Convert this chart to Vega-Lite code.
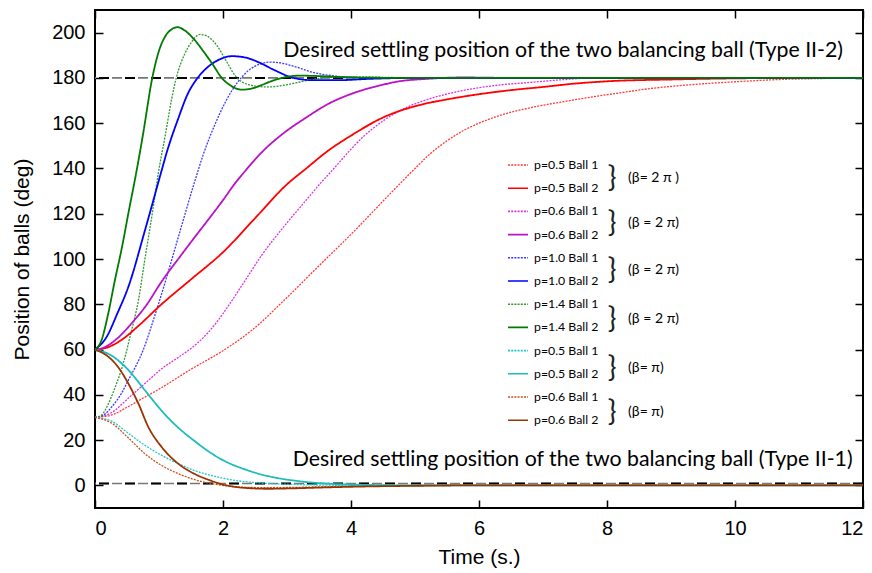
{
  "$schema": "https://vega.github.io/schema/vega-lite/v6.json",
  "width": 768,
  "height": 498,
  "autosize": {"type": "none"},
  "padding": {"left": 95, "top": 10, "right": 9, "bottom": 65},
  "background": "white",
  "datasets": {
    "levels": [{"level": 180}, {"level": 0.8}],
    "notes": [
      {"text": "Desired settling position of the two balancing ball (Type II-2)", "t": 2.94, "v": 192.1, "kind": "big"},
      {"text": "Desired settling position of the two balancing ball (Type II-1)", "t": 3.09, "v": 11, "kind": "big"},
      {"text": "}", "t": 8.08, "v": 135.8, "kind": "brace"},
      {"text": "}", "t": 8.08, "v": 115.9, "kind": "brace"},
      {"text": "}", "t": 8.08, "v": 95.2, "kind": "brace"},
      {"text": "}", "t": 8.08, "v": 73.6, "kind": "brace"},
      {"text": "}", "t": 8.08, "v": 52.0, "kind": "brace"},
      {"text": "}", "t": 8.08, "v": 32.2, "kind": "brace"},
      {"text": "(β= 2 π )", "t": 8.33, "v": 135.8, "kind": "beta"},
      {"text": "(β = 2 π)", "t": 8.33, "v": 115.9, "kind": "beta"},
      {"text": "(β = 2 π)", "t": 8.33, "v": 95.2, "kind": "beta"},
      {"text": "(β = 2 π)", "t": 8.33, "v": 73.6, "kind": "beta"},
      {"text": "(β= π)", "t": 8.33, "v": 52.0, "kind": "beta"},
      {"text": "(β= π)", "t": 8.33, "v": 32.2, "kind": "beta"}
    ],
    "curves": [
      {"series": "p=0.5 Ball 1 (β=2π)", "t": 0, "v": 30},
      {"series": "p=0.5 Ball 1 (β=2π)", "t": 0.25, "v": 31},
      {"series": "p=0.5 Ball 1 (β=2π)", "t": 0.5, "v": 34.5},
      {"series": "p=0.5 Ball 1 (β=2π)", "t": 0.78, "v": 39},
      {"series": "p=0.5 Ball 1 (β=2π)", "t": 1, "v": 42.5},
      {"series": "p=0.5 Ball 1 (β=2π)", "t": 1.5, "v": 51.3},
      {"series": "p=0.5 Ball 1 (β=2π)", "t": 2, "v": 59.5},
      {"series": "p=0.5 Ball 1 (β=2π)", "t": 2.45, "v": 68.5},
      {"series": "p=0.5 Ball 1 (β=2π)", "t": 3, "v": 83},
      {"series": "p=0.5 Ball 1 (β=2π)", "t": 3.5, "v": 97},
      {"series": "p=0.5 Ball 1 (β=2π)", "t": 4.06, "v": 112.6},
      {"series": "p=0.5 Ball 1 (β=2π)", "t": 4.6, "v": 128.5},
      {"series": "p=0.5 Ball 1 (β=2π)", "t": 5, "v": 140},
      {"series": "p=0.5 Ball 1 (β=2π)", "t": 5.23, "v": 146.3},
      {"series": "p=0.5 Ball 1 (β=2π)", "t": 5.5, "v": 152.2},
      {"series": "p=0.5 Ball 1 (β=2π)", "t": 5.76, "v": 156.8},
      {"series": "p=0.5 Ball 1 (β=2π)", "t": 6, "v": 160},
      {"series": "p=0.5 Ball 1 (β=2π)", "t": 6.28, "v": 163},
      {"series": "p=0.5 Ball 1 (β=2π)", "t": 6.8, "v": 166.8},
      {"series": "p=0.5 Ball 1 (β=2π)", "t": 7.32, "v": 169.5},
      {"series": "p=0.5 Ball 1 (β=2π)", "t": 7.84, "v": 171.9},
      {"series": "p=0.5 Ball 1 (β=2π)", "t": 8.3, "v": 173.8},
      {"series": "p=0.5 Ball 1 (β=2π)", "t": 8.62, "v": 175.1},
      {"series": "p=0.5 Ball 1 (β=2π)", "t": 9.1, "v": 176.5},
      {"series": "p=0.5 Ball 1 (β=2π)", "t": 9.66, "v": 177.7},
      {"series": "p=0.5 Ball 1 (β=2π)", "t": 10.2, "v": 178.6},
      {"series": "p=0.5 Ball 1 (β=2π)", "t": 10.7, "v": 179.3},
      {"series": "p=0.5 Ball 1 (β=2π)", "t": 11.3, "v": 179.7},
      {"series": "p=0.5 Ball 1 (β=2π)", "t": 12, "v": 180},

      {"series": "p=0.5 Ball 2 (β=2π)", "t": 0, "v": 60},
      {"series": "p=0.5 Ball 2 (β=2π)", "t": 0.2, "v": 61},
      {"series": "p=0.5 Ball 2 (β=2π)", "t": 0.4, "v": 64},
      {"series": "p=0.5 Ball 2 (β=2π)", "t": 0.7, "v": 71},
      {"series": "p=0.5 Ball 2 (β=2π)", "t": 1, "v": 79},
      {"series": "p=0.5 Ball 2 (β=2π)", "t": 1.5, "v": 91},
      {"series": "p=0.5 Ball 2 (β=2π)", "t": 2, "v": 103},
      {"series": "p=0.5 Ball 2 (β=2π)", "t": 2.5, "v": 118},
      {"series": "p=0.5 Ball 2 (β=2π)", "t": 3, "v": 133},
      {"series": "p=0.5 Ball 2 (β=2π)", "t": 3.3, "v": 140},
      {"series": "p=0.5 Ball 2 (β=2π)", "t": 3.65, "v": 148},
      {"series": "p=0.5 Ball 2 (β=2π)", "t": 4, "v": 154.5},
      {"series": "p=0.5 Ball 2 (β=2π)", "t": 4.5, "v": 162.5},
      {"series": "p=0.5 Ball 2 (β=2π)", "t": 5, "v": 167.5},
      {"series": "p=0.5 Ball 2 (β=2π)", "t": 5.5, "v": 170.5},
      {"series": "p=0.5 Ball 2 (β=2π)", "t": 6, "v": 172.8},
      {"series": "p=0.5 Ball 2 (β=2π)", "t": 6.5, "v": 174.6},
      {"series": "p=0.5 Ball 2 (β=2π)", "t": 7, "v": 176},
      {"series": "p=0.5 Ball 2 (β=2π)", "t": 7.5, "v": 177.5},
      {"series": "p=0.5 Ball 2 (β=2π)", "t": 8, "v": 178.5},
      {"series": "p=0.5 Ball 2 (β=2π)", "t": 9, "v": 179.3},
      {"series": "p=0.5 Ball 2 (β=2π)", "t": 10, "v": 179.8},
      {"series": "p=0.5 Ball 2 (β=2π)", "t": 11, "v": 180},
      {"series": "p=0.5 Ball 2 (β=2π)", "t": 12, "v": 180},

      {"series": "p=0.6 Ball 1 (β=2π)", "t": 0, "v": 30},
      {"series": "p=0.6 Ball 1 (β=2π)", "t": 0.25, "v": 32},
      {"series": "p=0.6 Ball 1 (β=2π)", "t": 0.52, "v": 38.5},
      {"series": "p=0.6 Ball 1 (β=2π)", "t": 0.8, "v": 45.5},
      {"series": "p=0.6 Ball 1 (β=2π)", "t": 1.04, "v": 51.5},
      {"series": "p=0.6 Ball 1 (β=2π)", "t": 1.3, "v": 56.5},
      {"series": "p=0.6 Ball 1 (β=2π)", "t": 1.5, "v": 60.5},
      {"series": "p=0.6 Ball 1 (β=2π)", "t": 1.7, "v": 65.5},
      {"series": "p=0.6 Ball 1 (β=2π)", "t": 1.9, "v": 72},
      {"series": "p=0.6 Ball 1 (β=2π)", "t": 2.1, "v": 80},
      {"series": "p=0.6 Ball 1 (β=2π)", "t": 2.3, "v": 88.5},
      {"series": "p=0.6 Ball 1 (β=2π)", "t": 2.6, "v": 101.5},
      {"series": "p=0.6 Ball 1 (β=2π)", "t": 3, "v": 116},
      {"series": "p=0.6 Ball 1 (β=2π)", "t": 3.3, "v": 126},
      {"series": "p=0.6 Ball 1 (β=2π)", "t": 3.54, "v": 134},
      {"series": "p=0.6 Ball 1 (β=2π)", "t": 3.67, "v": 138},
      {"series": "p=0.6 Ball 1 (β=2π)", "t": 4, "v": 148.5},
      {"series": "p=0.6 Ball 1 (β=2π)", "t": 4.19, "v": 154},
      {"series": "p=0.6 Ball 1 (β=2π)", "t": 4.5, "v": 161},
      {"series": "p=0.6 Ball 1 (β=2π)", "t": 4.87, "v": 167},
      {"series": "p=0.6 Ball 1 (β=2π)", "t": 5.2, "v": 170.5},
      {"series": "p=0.6 Ball 1 (β=2π)", "t": 5.76, "v": 174.5},
      {"series": "p=0.6 Ball 1 (β=2π)", "t": 6.3, "v": 176.8},
      {"series": "p=0.6 Ball 1 (β=2π)", "t": 6.8, "v": 178},
      {"series": "p=0.6 Ball 1 (β=2π)", "t": 7.3, "v": 179.2},
      {"series": "p=0.6 Ball 1 (β=2π)", "t": 7.84, "v": 180},
      {"series": "p=0.6 Ball 1 (β=2π)", "t": 12, "v": 180},

      {"series": "p=0.6 Ball 2 (β=2π)", "t": 0, "v": 60},
      {"series": "p=0.6 Ball 2 (β=2π)", "t": 0.15, "v": 61},
      {"series": "p=0.6 Ball 2 (β=2π)", "t": 0.31, "v": 64},
      {"series": "p=0.6 Ball 2 (β=2π)", "t": 0.6, "v": 72.5},
      {"series": "p=0.6 Ball 2 (β=2π)", "t": 0.8, "v": 79.5},
      {"series": "p=0.6 Ball 2 (β=2π)", "t": 1.04, "v": 90},
      {"series": "p=0.6 Ball 2 (β=2π)", "t": 1.3, "v": 100},
      {"series": "p=0.6 Ball 2 (β=2π)", "t": 1.56, "v": 109.7},
      {"series": "p=0.6 Ball 2 (β=2π)", "t": 1.8, "v": 118.5},
      {"series": "p=0.6 Ball 2 (β=2π)", "t": 2, "v": 126},
      {"series": "p=0.6 Ball 2 (β=2π)", "t": 2.19, "v": 133.5},
      {"series": "p=0.6 Ball 2 (β=2π)", "t": 2.32, "v": 138},
      {"series": "p=0.6 Ball 2 (β=2π)", "t": 2.6, "v": 147},
      {"series": "p=0.6 Ball 2 (β=2π)", "t": 2.92, "v": 155},
      {"series": "p=0.6 Ball 2 (β=2π)", "t": 3.3, "v": 162.5},
      {"series": "p=0.6 Ball 2 (β=2π)", "t": 3.65, "v": 168.6},
      {"series": "p=0.6 Ball 2 (β=2π)", "t": 4.06, "v": 173.5},
      {"series": "p=0.6 Ball 2 (β=2π)", "t": 4.5, "v": 177},
      {"series": "p=0.6 Ball 2 (β=2π)", "t": 4.71, "v": 178.3},
      {"series": "p=0.6 Ball 2 (β=2π)", "t": 5.2, "v": 179.6},
      {"series": "p=0.6 Ball 2 (β=2π)", "t": 5.75, "v": 180.2},
      {"series": "p=0.6 Ball 2 (β=2π)", "t": 6.5, "v": 180},
      {"series": "p=0.6 Ball 2 (β=2π)", "t": 12, "v": 180},

      {"series": "p=1.0 Ball 1 (β=2π)", "t": 0, "v": 30},
      {"series": "p=1.0 Ball 1 (β=2π)", "t": 0.13, "v": 31},
      {"series": "p=1.0 Ball 1 (β=2π)", "t": 0.26, "v": 34.6},
      {"series": "p=1.0 Ball 1 (β=2π)", "t": 0.4, "v": 40},
      {"series": "p=1.0 Ball 1 (β=2π)", "t": 0.52, "v": 46.4},
      {"series": "p=1.0 Ball 1 (β=2π)", "t": 0.75, "v": 59.6},
      {"series": "p=1.0 Ball 1 (β=2π)", "t": 0.96, "v": 77.3},
      {"series": "p=1.0 Ball 1 (β=2π)", "t": 1.12, "v": 92},
      {"series": "p=1.0 Ball 1 (β=2π)", "t": 1.3, "v": 109.5},
      {"series": "p=1.0 Ball 1 (β=2π)", "t": 1.55, "v": 133.5},
      {"series": "p=1.0 Ball 1 (β=2π)", "t": 1.69, "v": 146},
      {"series": "p=1.0 Ball 1 (β=2π)", "t": 1.875, "v": 159.5},
      {"series": "p=1.0 Ball 1 (β=2π)", "t": 2.05, "v": 170},
      {"series": "p=1.0 Ball 1 (β=2π)", "t": 2.24, "v": 178.5},
      {"series": "p=1.0 Ball 1 (β=2π)", "t": 2.4, "v": 183.3},
      {"series": "p=1.0 Ball 1 (β=2π)", "t": 2.6, "v": 186.3},
      {"series": "p=1.0 Ball 1 (β=2π)", "t": 2.73, "v": 187},
      {"series": "p=1.0 Ball 1 (β=2π)", "t": 2.9, "v": 186.6},
      {"series": "p=1.0 Ball 1 (β=2π)", "t": 3.1, "v": 185.2},
      {"series": "p=1.0 Ball 1 (β=2π)", "t": 3.4, "v": 182.5},
      {"series": "p=1.0 Ball 1 (β=2π)", "t": 3.7, "v": 181},
      {"series": "p=1.0 Ball 1 (β=2π)", "t": 4, "v": 180.3},
      {"series": "p=1.0 Ball 1 (β=2π)", "t": 4.5, "v": 180},
      {"series": "p=1.0 Ball 1 (β=2π)", "t": 12, "v": 180},

      {"series": "p=1.0 Ball 2 (β=2π)", "t": 0, "v": 60},
      {"series": "p=1.0 Ball 2 (β=2π)", "t": 0.18, "v": 65.5},
      {"series": "p=1.0 Ball 2 (β=2π)", "t": 0.35, "v": 76},
      {"series": "p=1.0 Ball 2 (β=2π)", "t": 0.52, "v": 87.6},
      {"series": "p=1.0 Ball 2 (β=2π)", "t": 0.78, "v": 112.6},
      {"series": "p=1.0 Ball 2 (β=2π)", "t": 1.04, "v": 139},
      {"series": "p=1.0 Ball 2 (β=2π)", "t": 1.12, "v": 147},
      {"series": "p=1.0 Ball 2 (β=2π)", "t": 1.3, "v": 162},
      {"series": "p=1.0 Ball 2 (β=2π)", "t": 1.45, "v": 173},
      {"series": "p=1.0 Ball 2 (β=2π)", "t": 1.59, "v": 179.5},
      {"series": "p=1.0 Ball 2 (β=2π)", "t": 1.75, "v": 184.5},
      {"series": "p=1.0 Ball 2 (β=2π)", "t": 1.9, "v": 187.5},
      {"series": "p=1.0 Ball 2 (β=2π)", "t": 2.14, "v": 189.6},
      {"series": "p=1.0 Ball 2 (β=2π)", "t": 2.35, "v": 189},
      {"series": "p=1.0 Ball 2 (β=2π)", "t": 2.55, "v": 187},
      {"series": "p=1.0 Ball 2 (β=2π)", "t": 2.8, "v": 183.5},
      {"series": "p=1.0 Ball 2 (β=2π)", "t": 3.1, "v": 180},
      {"series": "p=1.0 Ball 2 (β=2π)", "t": 3.4, "v": 179},
      {"series": "p=1.0 Ball 2 (β=2π)", "t": 3.8, "v": 179},
      {"series": "p=1.0 Ball 2 (β=2π)", "t": 4.3, "v": 179.6},
      {"series": "p=1.0 Ball 2 (β=2π)", "t": 5, "v": 180},
      {"series": "p=1.0 Ball 2 (β=2π)", "t": 12, "v": 180},

      {"series": "p=1.4 Ball 1 (β=2π)", "t": 0, "v": 30},
      {"series": "p=1.4 Ball 1 (β=2π)", "t": 0.1, "v": 31},
      {"series": "p=1.4 Ball 1 (β=2π)", "t": 0.2, "v": 35.5},
      {"series": "p=1.4 Ball 1 (β=2π)", "t": 0.31, "v": 43},
      {"series": "p=1.4 Ball 1 (β=2π)", "t": 0.4, "v": 50},
      {"series": "p=1.4 Ball 1 (β=2π)", "t": 0.49, "v": 59},
      {"series": "p=1.4 Ball 1 (β=2π)", "t": 0.55, "v": 66},
      {"series": "p=1.4 Ball 1 (β=2π)", "t": 0.68, "v": 82},
      {"series": "p=1.4 Ball 1 (β=2π)", "t": 0.78, "v": 100},
      {"series": "p=1.4 Ball 1 (β=2π)", "t": 0.9, "v": 121},
      {"series": "p=1.4 Ball 1 (β=2π)", "t": 0.99, "v": 138},
      {"series": "p=1.4 Ball 1 (β=2π)", "t": 1.1, "v": 155},
      {"series": "p=1.4 Ball 1 (β=2π)", "t": 1.2, "v": 171},
      {"series": "p=1.4 Ball 1 (β=2π)", "t": 1.27, "v": 180},
      {"series": "p=1.4 Ball 1 (β=2π)", "t": 1.4, "v": 190.5},
      {"series": "p=1.4 Ball 1 (β=2π)", "t": 1.5, "v": 195.5},
      {"series": "p=1.4 Ball 1 (β=2π)", "t": 1.64, "v": 199.2},
      {"series": "p=1.4 Ball 1 (β=2π)", "t": 1.75, "v": 198.5},
      {"series": "p=1.4 Ball 1 (β=2π)", "t": 1.9, "v": 194.5},
      {"series": "p=1.4 Ball 1 (β=2π)", "t": 2.05, "v": 187.5},
      {"series": "p=1.4 Ball 1 (β=2π)", "t": 2.19, "v": 181},
      {"series": "p=1.4 Ball 1 (β=2π)", "t": 2.4, "v": 177},
      {"series": "p=1.4 Ball 1 (β=2π)", "t": 2.7, "v": 176},
      {"series": "p=1.4 Ball 1 (β=2π)", "t": 3, "v": 177},
      {"series": "p=1.4 Ball 1 (β=2π)", "t": 3.3, "v": 178.8},
      {"series": "p=1.4 Ball 1 (β=2π)", "t": 3.7, "v": 180.3},
      {"series": "p=1.4 Ball 1 (β=2π)", "t": 4.1, "v": 180.5},
      {"series": "p=1.4 Ball 1 (β=2π)", "t": 4.6, "v": 180.2},
      {"series": "p=1.4 Ball 1 (β=2π)", "t": 5.2, "v": 180},
      {"series": "p=1.4 Ball 1 (β=2π)", "t": 12, "v": 180},

      {"series": "p=1.4 Ball 2 (β=2π)", "t": 0, "v": 60},
      {"series": "p=1.4 Ball 2 (β=2π)", "t": 0.1, "v": 64},
      {"series": "p=1.4 Ball 2 (β=2π)", "t": 0.2, "v": 75},
      {"series": "p=1.4 Ball 2 (β=2π)", "t": 0.31, "v": 90.5},
      {"series": "p=1.4 Ball 2 (β=2π)", "t": 0.42, "v": 105},
      {"series": "p=1.4 Ball 2 (β=2π)", "t": 0.52, "v": 120},
      {"series": "p=1.4 Ball 2 (β=2π)", "t": 0.65, "v": 139},
      {"series": "p=1.4 Ball 2 (β=2π)", "t": 0.75, "v": 155},
      {"series": "p=1.4 Ball 2 (β=2π)", "t": 0.895, "v": 180},
      {"series": "p=1.4 Ball 2 (β=2π)", "t": 1, "v": 192},
      {"series": "p=1.4 Ball 2 (β=2π)", "t": 1.1, "v": 198.5},
      {"series": "p=1.4 Ball 2 (β=2π)", "t": 1.2, "v": 201.5},
      {"series": "p=1.4 Ball 2 (β=2π)", "t": 1.29, "v": 202.4},
      {"series": "p=1.4 Ball 2 (β=2π)", "t": 1.4, "v": 201},
      {"series": "p=1.4 Ball 2 (β=2π)", "t": 1.55, "v": 197},
      {"series": "p=1.4 Ball 2 (β=2π)", "t": 1.7, "v": 191.5},
      {"series": "p=1.4 Ball 2 (β=2π)", "t": 1.85, "v": 185.5},
      {"series": "p=1.4 Ball 2 (β=2π)", "t": 1.98, "v": 180},
      {"series": "p=1.4 Ball 2 (β=2π)", "t": 2.1, "v": 177},
      {"series": "p=1.4 Ball 2 (β=2π)", "t": 2.29, "v": 174.8},
      {"series": "p=1.4 Ball 2 (β=2π)", "t": 2.45, "v": 175.3},
      {"series": "p=1.4 Ball 2 (β=2π)", "t": 2.6, "v": 176.8},
      {"series": "p=1.4 Ball 2 (β=2π)", "t": 2.75, "v": 178.5},
      {"series": "p=1.4 Ball 2 (β=2π)", "t": 2.92, "v": 180},
      {"series": "p=1.4 Ball 2 (β=2π)", "t": 3.2, "v": 181},
      {"series": "p=1.4 Ball 2 (β=2π)", "t": 3.5, "v": 180.8},
      {"series": "p=1.4 Ball 2 (β=2π)", "t": 4, "v": 180.2},
      {"series": "p=1.4 Ball 2 (β=2π)", "t": 5, "v": 180},
      {"series": "p=1.4 Ball 2 (β=2π)", "t": 12, "v": 180},

      {"series": "p=0.5 Ball 1 (β=π)", "t": 0, "v": 30},
      {"series": "p=0.5 Ball 1 (β=π)", "t": 0.25, "v": 28.5},
      {"series": "p=0.5 Ball 1 (β=π)", "t": 0.52, "v": 23},
      {"series": "p=0.5 Ball 1 (β=π)", "t": 0.78, "v": 17.7},
      {"series": "p=0.5 Ball 1 (β=π)", "t": 1.04, "v": 13.3},
      {"series": "p=0.5 Ball 1 (β=π)", "t": 1.3, "v": 9.6},
      {"series": "p=0.5 Ball 1 (β=π)", "t": 1.56, "v": 6.5},
      {"series": "p=0.5 Ball 1 (β=π)", "t": 1.8, "v": 4.5},
      {"series": "p=0.5 Ball 1 (β=π)", "t": 2.08, "v": 2.7},
      {"series": "p=0.5 Ball 1 (β=π)", "t": 2.6, "v": 1},
      {"series": "p=0.5 Ball 1 (β=π)", "t": 3.1, "v": 0.4},
      {"series": "p=0.5 Ball 1 (β=π)", "t": 3.6, "v": 0.1},
      {"series": "p=0.5 Ball 1 (β=π)", "t": 4.2, "v": 0},
      {"series": "p=0.5 Ball 1 (β=π)", "t": 12, "v": 0},

      {"series": "p=0.5 Ball 2 (β=π)", "t": 0, "v": 60},
      {"series": "p=0.5 Ball 2 (β=π)", "t": 0.25, "v": 57.5},
      {"series": "p=0.5 Ball 2 (β=π)", "t": 0.52, "v": 51},
      {"series": "p=0.5 Ball 2 (β=π)", "t": 0.78, "v": 42},
      {"series": "p=0.5 Ball 2 (β=π)", "t": 1.04, "v": 33},
      {"series": "p=0.5 Ball 2 (β=π)", "t": 1.3, "v": 25.5},
      {"series": "p=0.5 Ball 2 (β=π)", "t": 1.56, "v": 19.5},
      {"series": "p=0.5 Ball 2 (β=π)", "t": 1.8, "v": 14.5},
      {"series": "p=0.5 Ball 2 (β=π)", "t": 2.08, "v": 10},
      {"series": "p=0.5 Ball 2 (β=π)", "t": 2.35, "v": 7},
      {"series": "p=0.5 Ball 2 (β=π)", "t": 2.6, "v": 4.8},
      {"series": "p=0.5 Ball 2 (β=π)", "t": 2.9, "v": 3},
      {"series": "p=0.5 Ball 2 (β=π)", "t": 3.2, "v": 1.8},
      {"series": "p=0.5 Ball 2 (β=π)", "t": 3.6, "v": 0.8},
      {"series": "p=0.5 Ball 2 (β=π)", "t": 4.1, "v": 0.3},
      {"series": "p=0.5 Ball 2 (β=π)", "t": 5, "v": 0},
      {"series": "p=0.5 Ball 2 (β=π)", "t": 12, "v": 0},

      {"series": "p=0.6 Ball 1 (β=π)", "t": 0, "v": 30},
      {"series": "p=0.6 Ball 1 (β=π)", "t": 0.26, "v": 27.5},
      {"series": "p=0.6 Ball 1 (β=π)", "t": 0.52, "v": 21},
      {"series": "p=0.6 Ball 1 (β=π)", "t": 0.78, "v": 14},
      {"series": "p=0.6 Ball 1 (β=π)", "t": 1.04, "v": 8.8},
      {"series": "p=0.6 Ball 1 (β=π)", "t": 1.3, "v": 5.2},
      {"series": "p=0.6 Ball 1 (β=π)", "t": 1.56, "v": 2.5},
      {"series": "p=0.6 Ball 1 (β=π)", "t": 1.8, "v": 0.9},
      {"series": "p=0.6 Ball 1 (β=π)", "t": 2.08, "v": -0.3},
      {"series": "p=0.6 Ball 1 (β=π)", "t": 2.4, "v": -0.9},
      {"series": "p=0.6 Ball 1 (β=π)", "t": 2.7, "v": -1},
      {"series": "p=0.6 Ball 1 (β=π)", "t": 3.1, "v": -0.9},
      {"series": "p=0.6 Ball 1 (β=π)", "t": 3.6, "v": -0.6},
      {"series": "p=0.6 Ball 1 (β=π)", "t": 4.2, "v": -0.3},
      {"series": "p=0.6 Ball 1 (β=π)", "t": 5, "v": -0.1},
      {"series": "p=0.6 Ball 1 (β=π)", "t": 6, "v": 0},
      {"series": "p=0.6 Ball 1 (β=π)", "t": 12, "v": 0},

      {"series": "p=0.6 Ball 2 (β=π)", "t": 0, "v": 60},
      {"series": "p=0.6 Ball 2 (β=π)", "t": 0.2, "v": 57},
      {"series": "p=0.6 Ball 2 (β=π)", "t": 0.36, "v": 52.3},
      {"series": "p=0.6 Ball 2 (β=π)", "t": 0.52, "v": 45},
      {"series": "p=0.6 Ball 2 (β=π)", "t": 0.68, "v": 36},
      {"series": "p=0.6 Ball 2 (β=π)", "t": 0.83, "v": 26},
      {"series": "p=0.6 Ball 2 (β=π)", "t": 1.04, "v": 17},
      {"series": "p=0.6 Ball 2 (β=π)", "t": 1.3, "v": 9.6},
      {"series": "p=0.6 Ball 2 (β=π)", "t": 1.56, "v": 5},
      {"series": "p=0.6 Ball 2 (β=π)", "t": 1.8, "v": 2.2},
      {"series": "p=0.6 Ball 2 (β=π)", "t": 1.98, "v": 0.5},
      {"series": "p=0.6 Ball 2 (β=π)", "t": 2.2, "v": -0.7},
      {"series": "p=0.6 Ball 2 (β=π)", "t": 2.45, "v": -1.3},
      {"series": "p=0.6 Ball 2 (β=π)", "t": 2.7, "v": -1.5},
      {"series": "p=0.6 Ball 2 (β=π)", "t": 3.1, "v": -1.3},
      {"series": "p=0.6 Ball 2 (β=π)", "t": 3.6, "v": -0.9},
      {"series": "p=0.6 Ball 2 (β=π)", "t": 4.2, "v": -0.5},
      {"series": "p=0.6 Ball 2 (β=π)", "t": 5, "v": -0.2},
      {"series": "p=0.6 Ball 2 (β=π)", "t": 6, "v": 0},
      {"series": "p=0.6 Ball 2 (β=π)", "t": 12, "v": 0}
    ]
  },
  "resolve": {"axis": {"x": "independent", "y": "independent"}},
  "layer": [
    {
      "data": {"name": "levels"},
      "mark": {"type": "rule", "color": "#777777", "strokeWidth": 1.6, "strokeDash": [10, 3, 10, 3]},
      "encoding": {"y": {"field": "level", "type": "quantitative", "scale": {"domain": [-10, 210], "nice": false, "zero": false}, "axis": null}}
    },
    {
      "data": {"name": "levels"},
      "mark": {"type": "rule", "color": "#000000", "strokeWidth": 2, "strokeDash": [10, 16]},
      "encoding": {"y": {"field": "level", "type": "quantitative", "axis": null}}
    },
    {
      "data": {"name": "curves"},
      "transform": [{"filter": "indexof(datum.series, 'Ball 1') >= 0"}],
      "mark": {"type": "line", "strokeWidth": 1.3, "interpolate": "monotone"},
      "encoding": {
        "x": {"field": "t", "type": "quantitative", "scale": {"domain": [0, 12], "nice": false}, "axis": {"orient": "bottom", "values": [0, 2, 4, 6, 8, 10, 12], "title": "Time (s.)", "titlePadding": 8}},
        "y": {"field": "v", "type": "quantitative", "axis": {"orient": "left", "values": [0, 20, 40, 60, 80, 100, 120, 140, 160, 180, 200], "title": "Position of balls (deg)", "titlePadding": 19}},
        "color": {"field": "series", "type": "nominal", "scale": {"domain": ["p=0.5 Ball 1 (β=2π)", "p=0.5 Ball 2 (β=2π)", "p=0.6 Ball 1 (β=2π)", "p=0.6 Ball 2 (β=2π)", "p=1.0 Ball 1 (β=2π)", "p=1.0 Ball 2 (β=2π)", "p=1.4 Ball 1 (β=2π)", "p=1.4 Ball 2 (β=2π)", "p=0.5 Ball 1 (β=π)", "p=0.5 Ball 2 (β=π)", "p=0.6 Ball 1 (β=π)", "p=0.6 Ball 2 (β=π)"], "range": ["#ff3b3b", "#ff0000", "#dd33dd", "#bb11c8", "#3a3aff", "#0000ff", "#2f9a2f", "#007a00", "#22c8c8", "#1cbcbc", "#c8501e", "#993300"]}, "legend": {"title": null, "labelExpr": "substring(datum.label, 0, 12)"}},
        "strokeDash": {"field": "series", "type": "nominal", "scale": {"domain": ["p=0.5 Ball 1 (β=2π)", "p=0.5 Ball 2 (β=2π)", "p=0.6 Ball 1 (β=2π)", "p=0.6 Ball 2 (β=2π)", "p=1.0 Ball 1 (β=2π)", "p=1.0 Ball 2 (β=2π)", "p=1.4 Ball 1 (β=2π)", "p=1.4 Ball 2 (β=2π)", "p=0.5 Ball 1 (β=π)", "p=0.5 Ball 2 (β=π)", "p=0.6 Ball 1 (β=π)", "p=0.6 Ball 2 (β=π)"], "range": [[2, 1.2], [1, 0], [2, 1.2], [1, 0], [2, 1.2], [1, 0], [2, 1.2], [1, 0], [2, 1.2], [1, 0], [2, 1.2], [1, 0]]}, "legend": {"title": null, "labelExpr": "substring(datum.label, 0, 12)"}}
      }
    },
    {
      "data": {"name": "curves"},
      "transform": [{"filter": "indexof(datum.series, 'Ball 2') >= 0"}],
      "mark": {"type": "line", "strokeWidth": 1.8, "interpolate": "monotone"},
      "encoding": {
        "x": {"field": "t", "type": "quantitative", "axis": null},
        "y": {"field": "v", "type": "quantitative", "axis": null},
        "color": {"field": "series", "type": "nominal"},
        "strokeDash": {"field": "series", "type": "nominal"}
      }
    },
    {
      "data": {"name": "notes"},
      "transform": [{"filter": "datum.kind == 'big'"}],
      "mark": {"type": "text", "align": "left", "baseline": "middle", "font": "Lato", "fontSize": 21.3, "color": "#000"},
      "encoding": {
        "x": {"field": "t", "type": "quantitative", "axis": {"orient": "top", "values": [0, 2, 4, 6, 8, 10, 12], "labels": false, "title": null}},
        "y": {"field": "v", "type": "quantitative", "axis": {"orient": "right", "values": [0, 20, 40, 60, 80, 100, 120, 140, 160, 180, 200], "labels": false, "title": null}},
        "text": {"field": "text"}
      }
    },
    {
      "data": {"name": "notes"},
      "transform": [{"filter": "datum.kind == 'brace'"}],
      "mark": {"type": "text", "align": "center", "baseline": "middle", "font": "Lato", "fontSize": 29, "color": "#222"},
      "encoding": {
        "x": {"field": "t", "type": "quantitative", "axis": null},
        "y": {"field": "v", "type": "quantitative", "axis": null},
        "text": {"field": "text"}
      }
    },
    {
      "data": {"name": "notes"},
      "transform": [{"filter": "datum.kind == 'beta'"}],
      "mark": {"type": "text", "align": "left", "baseline": "middle", "font": "Lato", "fontSize": 14, "color": "#000"},
      "encoding": {
        "x": {"field": "t", "type": "quantitative", "axis": null},
        "y": {"field": "v", "type": "quantitative", "axis": null},
        "text": {"field": "text"}
      }
    }
  ],
  "config": {
    "view": {"stroke": "#000", "strokeWidth": 2},
    "axis": {
      "domain": false, "grid": false,
      "tickColor": "#000", "tickWidth": 1.5, "tickSize": -8,
      "labelFont": "Liberation Sans", "labelFontSize": 20, "labelColor": "#000", "labelPadding": 18,
      "titleFont": "Liberation Sans", "titleFontSize": 21, "titleFontWeight": "normal", "titleColor": "#000"
    },
    "legend": {
      "orient": "none", "legendX": 412, "legendY": 144, "padding": 0,
      "symbolType": "stroke", "symbolSize": 400, "symbolStrokeWidth": 1.6,
      "labelFont": "Lato", "labelFontSize": 12.3, "labelColor": "#000", "labelOffset": 5,
      "rowPadding": 5.2
    }
  }
}
